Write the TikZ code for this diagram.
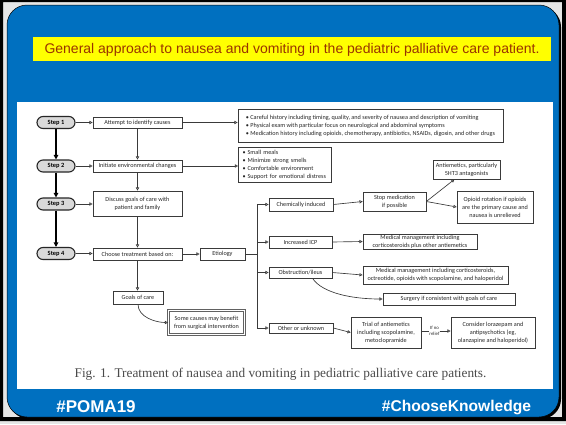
\documentclass[tikz,border=0pt]{standalone}
\usepackage{fontspec}
\setmainfont{Liberation Sans}
\newfontfamily\chartfont{Carlito}
\newfontfamily\captionserif{Liberation Serif}
\usetikzlibrary{arrows.meta,calc}

\definecolor{slideblue}{HTML}{0070C0}
\definecolor{titlered}{HTML}{993300}
\definecolor{titleyellow}{HTML}{FFFF00}
\definecolor{edgegray}{HTML}{3A3A3A}
\definecolor{pillgray}{HTML}{D9D9D9}
\definecolor{framegray}{HTML}{E6E6E6}
\definecolor{captiongray}{HTML}{4A4A4A}

\tikzset{
  chartbox/.style={draw=edgegray, fill=white, line width=0.65pt, align=center,
    inner sep=1pt, text=black!85, font=\chartfont\fontsize{6.2}{8}\selectfont},
  listbox/.style={chartbox, align=left, inner xsep=4pt},
  pill/.style={draw=black!85, fill=pillgray, line width=1.1pt, rounded corners=6pt,
    minimum width=38pt, minimum height=12pt, inner sep=0pt,
    font=\chartfont\bfseries\fontsize{6.4}{7}\selectfont},
  link/.style={draw=edgegray, line width=0.65pt,
    -{Triangle[open,length=3.2pt,width=3.2pt]}},
  stepflow/.style={draw=black, line width=1.1pt,
    -{Triangle[length=4.5pt,width=4.5pt]}},
  plain/.style={draw=edgegray, line width=0.65pt},
}

\begin{document}
\begin{tikzpicture}[x=1pt,y=-1pt]
\useasboundingbox (0,0) rectangle (566,424);

% slide frame and blue panel
\fill[framegray] (0,0) rectangle (566,424);
\fill[black, even odd rule] (0,0) rectangle (566,421) (3,2) rectangle (562,417);
\fill[black, rounded corners=20pt] (9,7) rectangle (561,419);
\filldraw[fill=slideblue, draw=black, line width=0.5pt, rounded corners=20pt]
  (7,5) rectangle (559,417);

% title bar
\fill[titleyellow] (33,37) rectangle (551,61);
\node[font=\fontsize{14}{16}\selectfont, text=titlered, inner sep=0pt] (title) at (292,49.5)
  {General approach to nausea and vomiting in the pediatric palliative care patient.};

% figure panel
\fill[white] (17,102) rectangle (553,389);

% steps
\node[pill] (s1) at (56,122.5) {Step 1};
\node[pill] (s2) at (56,166) {Step 2};
\node[pill] (s3) at (56,204) {Step 3};
\node[pill] (s4) at (56,253.5) {Step 4};

% main column
\node[chartbox, minimum width=89pt, minimum height=11pt] (attempt) at (137.5,122.5) {Attempt to identify causes};
\node[chartbox, minimum width=89pt, minimum height=12pt] (envchg) at (137.5,166) {Initiate environmental changes};
\node[chartbox, minimum width=89pt, minimum height=25pt] (discuss) at (137.5,203.5) {Discuss goals of care with\\patient and family};
\node[chartbox, minimum width=89pt, minimum height=12pt] (choose) at (137.5,254) {Choose treatment based on:};
\node[chartbox, minimum width=45pt, minimum height=12pt] (etiology) at (222.5,254) {Etiology};
\node[chartbox, minimum width=50pt, minimum height=13pt] (goals) at (138,297.5) {Goals of care};
\node[chartbox, draw=edgegray!80, double=white, double distance=0.7pt, line width=0.7pt,
  minimum width=76pt, minimum height=24pt] (surgbenefit) at (206.5,322.5)
  {Some causes may benefit\\from surgical intervention};

% lists
\node[listbox, minimum width=265pt, minimum height=33pt] (history) at (370.5,125.5)
  {• Careful history including timing, quality, and severity of nausea and description of vomiting\\
   • Physical exam with particular focus on neurological and abdominal symptoms\\
   • Medication history including opioids, chemotherapy, antibiotics, NSAIDs, digoxin, and other drugs};
\node[listbox, text width=85pt, minimum height=35pt] (comfort) at (285,164.5)
  {• Small meals\\• Minimize strong smells\\• Comfortable environment\\• Support for emotional distress};

% etiology branches
\node[chartbox, minimum width=64pt, minimum height=13pt] (chem) at (301,204.5) {Chemically induced};
\node[chartbox, minimum width=63pt, minimum height=19pt] (stopmed) at (394.5,201.5) {Stop medication\\if possible};
\node[chartbox, minimum width=67pt, minimum height=19pt] (antiem) at (466.5,169.5) {Antiemetics, particularly\\5HT3 antagonists};
\node[chartbox, minimum width=76pt, minimum height=32pt] (opioid) at (495,207) {Opioid rotation if opioids\\are the primary cause and\\nausea is unrelieved};
\node[chartbox, minimum width=63pt, minimum height=12pt] (icp) at (300.5,242) {Increased ICP};
\node[chartbox, minimum width=114pt, minimum height=15pt] (medicp) at (420,241.5) {Medical management including\\corticosteroids plus other antiemetics};
\node[chartbox, minimum width=63pt, minimum height=11pt] (obstr) at (300.5,272.5) {Obstruction/ileus};
\node[chartbox, minimum width=145pt, minimum height=18pt] (medobs) at (435.5,275) {Medical management including corticosteroids,\\octreotide, opioids with scopolamine, and haloperidol};
\node[chartbox, minimum width=132pt, minimum height=12pt] (surgery) at (449,299) {Surgery if consistent with goals of care};
\node[chartbox, minimum width=64pt, minimum height=10pt] (other) at (301,328) {Other or unknown};
\node[chartbox, minimum width=70pt, minimum height=31pt] (trial) at (386,332.5) {Trial of antiemetics\\including scopolamine,\\metoclopramide};
\node[chartbox, minimum width=84pt, minimum height=31pt] (consider) at (493,332.5) {Consider lorazepam and\\antipsychotics (eg,\\olanzapine and haloperidol)};
\node[font=\chartfont\fontsize{4.8}{5.4}\selectfont, text=black!85, align=center, inner sep=0.6pt] (norelief) at (434.5,331) {If no\\relief};

% step sequence
\draw[stepflow] (s1.south) -- (s2.north);
\draw[stepflow] (s2.south) -- (s3.north);
\draw[stepflow] (s3.south) -- (s4.north);
\draw[link] (s1.east) -- (attempt.west);
\draw[link] (s2.east) -- (envchg.west);
\draw[link] (s3.east) -- (s3.east -| discuss.west);
\draw[link] (s4.east) -- (s4.east -| choose.west);

% main column links
\draw[link] (attempt.south) -- (envchg.north);
\draw[link] (envchg.south) -- (discuss.north);
\draw[link] (discuss.south) -- (choose.north);
\draw[link] (choose.south) -- (choose.south |- goals.north);
\draw[link] (goals.south) .. controls +(0,13) and +(-12,0) .. (surgbenefit.west);
\draw[link] (attempt.east) -- (attempt.east -| history.west);
\draw[link] (envchg.east) -- (envchg.east -| comfort.west);
\draw[link] (choose.east) -- (etiology.west);

% etiology bus
\coordinate (bus) at (257,254);
\draw[plain] (etiology.east) -- (bus);
\draw[plain] (bus |- chem) -- (bus |- other);
\foreach \n in {chem,icp,obstr,other}
  \draw[link] (bus |- \n) -- (\n.west);

% treatment links
\draw[link] (chem.east) -- (stopmed.west);
\draw[link] (stopmed.east) -- ([xshift=-12pt]antiem.south);
\draw[link] (stopmed.east) -- (opioid.west);
\draw[link] (icp.east) -- (medicp.west);
\draw[link] (obstr.east) -- (medobs.west);
\draw[link] ([xshift=12pt]obstr.south) .. controls +(10,15) and +(-30,0) .. (surgery.west);
\draw[link] (other.east) -- (trial.west);
\draw[plain] (trial.east |- norelief) -- (norelief.west);
\draw[link] (norelief.east) -- (consider.west |- norelief);

% caption and footer
\node[font=\captionserif\fontsize{13.3}{15}\selectfont, text=captiongray, inner sep=0pt] (caption) at (280.5,374)
  {Fig. 1. Treatment of nausea and vomiting in pediatric palliative care patients.};
\node[font=\bfseries\fontsize{17}{19}\selectfont, text=white, inner sep=0pt] (poma) at (96,407) {\#POMA19};
\node[font=\bfseries\fontsize{15.6}{18}\selectfont, text=white, inner sep=0pt] (choose2) at (456.5,407) {\#ChooseKnowledge};
\end{tikzpicture}
\end{document}
